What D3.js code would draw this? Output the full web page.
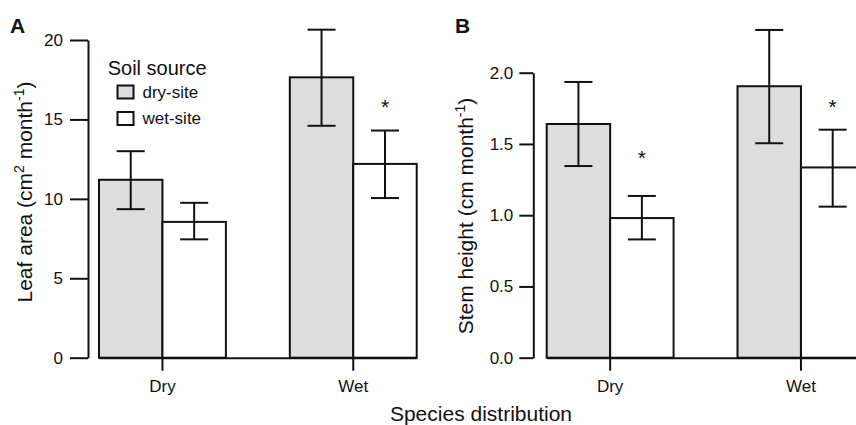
<!DOCTYPE html>
<html>
<head>
<meta charset="utf-8">
<script src="https://cdn.jsdelivr.net/npm/d3@7"></script>
<style>
  body { margin: 0; background: #fff; }
  svg { display: block; font-family: "Liberation Sans", Arial, Helvetica, sans-serif; }
</style>
</head>
<body>
<script>
// Categories and series
const categories  = ["Dry", "Wet"]
const soilSources = ["dry-site", "wet-site"]

// Panel A: leaf area (cm2 month-1)
const leafDrySite = [11.2, 17.65]
const leafWetSite = [8.55, 12.2]
const leafDryLo   = [9.35, 14.6]
const leafDryHi   = [13.0, 20.65]
const leafWetLo   = [7.45, 10.05]
const leafWetHi   = [9.75, 14.3]
const leafStars   = [null, 16.1]
const leafTicks   = [0, 5, 10, 15, 20]

// Panel B: stem height (cm month-1)
const stemDrySite = [1.64, 1.905]
const stemWetSite = [0.98, 1.335]
const stemDryLo   = [1.345, 1.505]
const stemDryHi   = [1.935, 2.30]
const stemWetLo   = [0.83, 1.06]
const stemWetHi   = [1.135, 1.60]
const stemStars   = [1.434, 1.796]
const stemTicks   = [0, 0.5, 1.0, 1.5, 2.0]

const fills = {"dry-site": "#dddddd", "wet-site": "#ffffff"}

var width  = 856
var height = 425
var base   = 357.7

let svg = d3.select('body')
            .append('svg')
            .attr('width', width)
            .attr('height', height)

// build one panel
var drawPanel = function(p){
    var y = d3.scaleLinear()
              .domain([0, p.ticks[p.ticks.length - 1]])
              .range([base, p.top])
    var x = d3.scaleBand()
              .domain(categories)
              .range(p.xRange)
              .paddingInner(0.335)
              .paddingOuter(0)
    var xs = d3.scaleBand()
               .domain(soilSources)
               .range([0, x.bandwidth()])

    let g = svg.append('g')

    // rows: one per category x soil source
    let rows = []
    categories.forEach((c, i) => {
        rows.push({cat: c, src: "dry-site", v: p.dry[i], lo: p.dryLo[i], hi: p.dryHi[i], star: null})
        rows.push({cat: c, src: "wet-site", v: p.wet[i], lo: p.wetLo[i], hi: p.wetHi[i], star: p.stars[i]})
    })

    // bars
    g.selectAll('rect.bar')
     .data(rows)
     .enter()
     .append('rect')
     .attr('class', 'bar')
     .attr('x', d => x(d.cat) + xs(d.src))
     .attr('y', d => y(d.v))
     .attr('width', xs.bandwidth())
     .attr('height', d => y(0) - y(d.v))
     .attr('fill', d => fills[d.src])
     .attr('stroke', '#111')
     .attr('stroke-width', 2)

    // error bars
    var cx  = d => x(d.cat) + xs(d.src) + xs.bandwidth() / 2
    var cap = 14
    let eb = g.selectAll('g.err')
              .data(rows)
              .enter()
              .append('g')
              .attr('class', 'err')
              .attr('stroke', '#111')
              .attr('stroke-width', 2)
    eb.append('line')
      .attr('x1', cx).attr('x2', cx)
      .attr('y1', d => y(d.lo)).attr('y2', d => y(d.hi))
    eb.append('line')
      .attr('x1', d => cx(d) - cap).attr('x2', d => cx(d) + cap)
      .attr('y1', d => y(d.hi)).attr('y2', d => y(d.hi))
    eb.append('line')
      .attr('x1', d => cx(d) - cap).attr('x2', d => cx(d) + cap)
      .attr('y1', d => y(d.lo)).attr('y2', d => y(d.lo))

    // significance stars
    g.selectAll('text.star')
     .data(rows.filter(d => d.star != null))
     .enter()
     .append('text')
     .attr('class', 'star')
     .attr('x', cx)
     .attr('y', d => y(d.star) + 12)
     .attr('text-anchor', 'middle')
     .attr('font-size', '21px')
     .attr('fill', '#111')
     .text('*')

    // y axis
    let ya = g.append('g')
              .attr('transform', 'translate(' + p.axisX + ',0)')
              .call(d3.axisLeft(y)
                      .tickValues(p.ticks)
                      .tickFormat(p.fmt)
                      .tickSize(p.tickLen)
                      .tickSizeOuter(0)
                      .tickPadding(p.tickPad))
    ya.selectAll('path, line').attr('stroke', '#111').attr('stroke-width', 2)
    ya.selectAll('text').attr('font-size', p.tickFont).attr('fill', '#111')
      .attr('font-family', '"Liberation Sans", Arial, sans-serif')

    // x axis
    let xa = g.append('g')
              .attr('transform', 'translate(0,' + base + ')')
              .call(d3.axisBottom(x)
                      .tickSize(13)
                      .tickSizeOuter(0)
                      .tickPadding(9))
    xa.selectAll('path, line').attr('stroke', '#111').attr('stroke-width', 2)
    xa.selectAll('text').attr('font-size', '17px').attr('fill', '#111')
      .attr('font-family', '"Liberation Sans", Arial, sans-serif')

    // y title
    let t = g.append('text')
             .attr('transform', 'translate(' + p.titleX + ',' + p.titleY + ') rotate(-90)')
             .attr('text-anchor', 'middle')
             .attr('font-size', '21px')
             .attr('fill', '#111')
    p.title.forEach(s => {
        t.append('tspan')
         .attr('font-size', s.sup ? '14px' : '21px')
         .attr('dy', s.sup ? -8 : (s.after ? 8 : 0))
         .text(s.text)
    })

    // panel letter
    g.append('text')
     .attr('x', p.letterX)
     .attr('y', 33)
     .attr('font-size', '21px')
     .attr('font-weight', 'bold')
     .attr('fill', '#111')
     .text(p.letter)
}

drawPanel({
    letter: 'A', letterX: 10,
    dry: leafDrySite, wet: leafWetSite,
    dryLo: leafDryLo, dryHi: leafDryHi, wetLo: leafWetLo, wetHi: leafWetHi,
    stars: leafStars, ticks: leafTicks, fmt: d3.format('d'),
    top: 40, xRange: [99, 416.7], axisX: 88, tickLen: 18, tickPad: 7, tickFont: '17px',
    titleX: 31.5, titleY: 192,
    title: [{text: 'Leaf area (cm'}, {text: '2', sup: true}, {text: ' month', after: true},
            {text: '-1', sup: true}, {text: ')', after: true}]
})

drawPanel({
    letter: 'B', letterX: 455,
    dry: stemDrySite, wet: stemWetSite,
    dryLo: stemDryLo, dryHi: stemDryHi, wetLo: stemWetLo, wetHi: stemWetHi,
    stars: stemStars, ticks: stemTicks, fmt: d3.format('.1f'),
    top: 72.7, xRange: [546.7, 864.4], axisX: 533.3, tickLen: 14, tickPad: 6, tickFont: '17px',
    titleX: 473.3, titleY: 216,
    title: [{text: 'Stem height (cm month'}, {text: '-1', sup: true}, {text: ')', after: true}]
})

// shared x title
svg.append('text')
   .attr('x', 481)
   .attr('y', 421)
   .attr('text-anchor', 'middle')
   .attr('font-size', '21px')
   .attr('fill', '#111')
   .text('Species distribution')

// legend
let lg = svg.append('g')
lg.append('text')
  .attr('x', 107.7)
  .attr('y', 75)
  .attr('font-size', '20px')
  .attr('fill', '#111')
  .text('Soil source')
let items = lg.selectAll('g.item')
              .data(soilSources)
              .enter()
              .append('g')
              .attr('class', 'item')
              .attr('transform', (d, i) => 'translate(117.5,' + (85.5 + i * 26.5) + ')')
items.append('rect')
     .attr('width', 16)
     .attr('height', 13)
     .attr('fill', d => fills[d])
     .attr('stroke', '#111')
     .attr('stroke-width', 2)
items.append('text')
     .attr('x', 25)
     .attr('y', 12)
     .attr('font-size', '17px')
     .attr('fill', '#111')
     .text(d => d)
</script>
</body>
</html>
